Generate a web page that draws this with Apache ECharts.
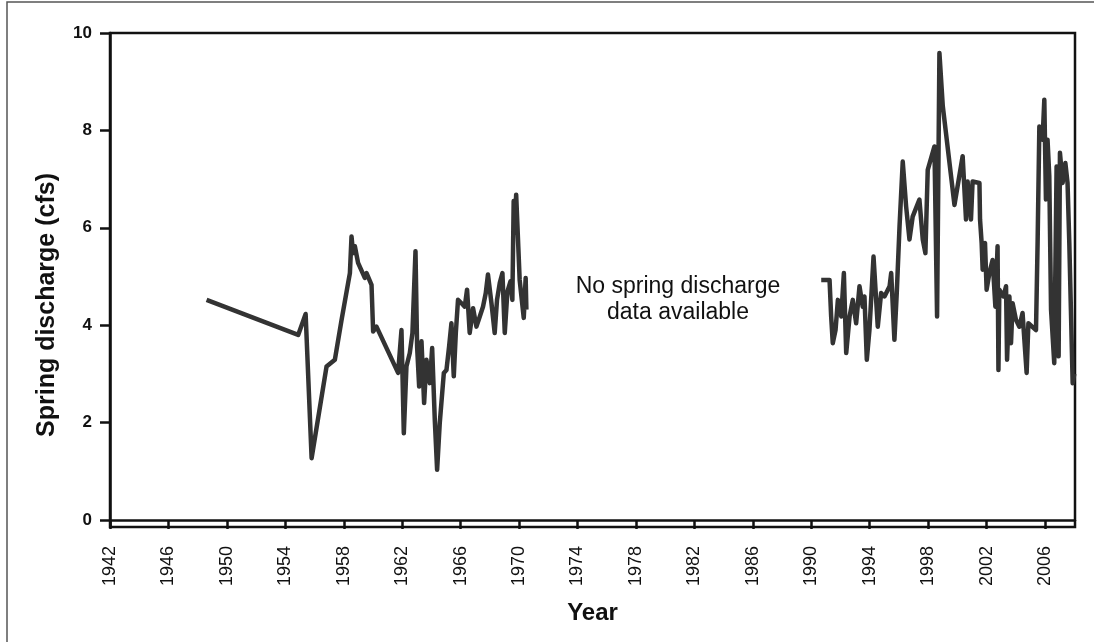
<!DOCTYPE html>
<html>
<head>
<meta charset="utf-8">
<script src="https://cdn.jsdelivr.net/npm/echarts@6/dist/echarts.min.js"></script>
<style>html,body{margin:0;padding:0;background:#fff}#c{width:1094px;height:642px}</style>
</head>
<body>
<div id="c"></div>
<script>
// Period 1 record (1948-1970)
const years1 = [1948.61,1954.88,1955.0,1955.39,1955.80,1956.82,1957.39,1957.85,1958.30,1958.42,1958.53,1958.64,1958.76,1958.98,1959.44,1959.56,1959.90,1960.01,1960.24,1961.72,1961.95,1962.11,1962.29,1962.52,1962.70,1962.91,1963.02,1963.16,1963.32,1963.50,1963.66,1963.89,1964.05,1964.23,1964.39,1964.57,1964.85,1965.03,1965.21,1965.37,1965.53,1965.67,1965.82,1966.06,1966.28,1966.44,1966.62,1966.85,1967.08,1967.31,1967.53,1967.72,1967.87,1968.11,1968.33,1968.49,1968.68,1968.86,1969.02,1969.20,1969.41,1969.54,1969.63,1969.70,1969.80,1970.04,1970.32,1970.45,1970.50];
const discharge1 = [4.52,3.80,3.80,4.23,1.27,3.15,3.29,4.11,4.87,5.07,5.82,5.48,5.62,5.28,4.97,5.07,4.83,3.87,3.97,3.02,3.90,1.78,3.15,3.43,3.84,5.52,3.56,2.74,3.67,2.40,3.29,2.81,3.53,2.06,1.03,1.99,3.02,3.08,3.56,4.04,2.95,3.84,4.52,4.45,4.38,4.73,3.84,4.35,3.97,4.18,4.38,4.66,5.04,4.45,3.84,4.52,4.87,5.07,3.84,4.69,4.90,4.52,6.55,5.90,6.68,4.93,4.15,4.97,4.32];
// Period 2 record (1990-2008)
const years2 = [1990.68,1991.25,1991.36,1991.47,1991.66,1991.82,1992.05,1992.23,1992.39,1992.62,1992.84,1993.07,1993.30,1993.52,1993.64,1993.80,1993.98,1994.26,1994.55,1994.78,1995.01,1995.36,1995.47,1995.58,1995.69,1995.85,1996.04,1996.26,1996.49,1996.72,1996.94,1997.40,1997.63,1997.81,1997.97,1998.43,1998.61,1998.77,1999.00,1999.80,2000.36,2000.59,2000.70,2000.93,2001.04,2001.51,2001.55,2001.66,2001.73,2001.89,2002.00,2002.19,2002.41,2002.60,2002.75,2002.81,2002.87,2003.15,2003.33,2003.40,2003.56,2003.67,2003.78,2004.01,2004.24,2004.46,2004.74,2004.86,2005.38,2005.49,2005.61,2005.83,2005.95,2006.06,2006.17,2006.29,2006.41,2006.63,2006.79,2006.93,2007.02,2007.20,2007.39,2007.54,2007.66,2007.77,2007.89,2008.00];
const discharge2 = [4.93,4.93,4.18,3.63,3.90,4.52,4.18,5.07,3.43,4.18,4.52,4.04,4.80,4.38,4.59,3.29,3.90,5.41,3.97,4.66,4.59,4.80,5.07,4.38,3.70,4.66,6.03,7.36,6.44,5.76,6.23,6.58,5.76,5.48,7.19,7.67,4.18,9.59,8.50,6.47,7.47,6.17,6.95,6.17,6.95,6.92,6.17,5.69,5.14,5.69,4.73,5.07,5.34,4.38,5.62,3.08,4.73,4.59,4.80,3.29,4.59,3.63,4.45,4.11,3.97,4.25,3.02,4.04,3.90,5.69,8.08,7.81,8.63,6.58,7.81,7.06,4.32,3.22,7.26,3.36,7.54,6.92,7.33,6.92,5.69,4.32,2.81,3.00];
const xTicks = [1942,1946,1950,1954,1958,1962,1966,1970,1974,1978,1982,1986,1990,1994,1998,2002,2006];
const yTicks = [0,2,4,6,8,10];

const pairs = (xs, ys) => xs.map((x, i) => [x, ys[i]]);
const FONT = '"Liberation Sans", Arial, sans-serif';
const lineStyle = { color: '#333333', width: 4.5, join: 'round' };

const chart = echarts.init(document.getElementById('c'), null, { renderer: 'canvas' });
chart.setOption({
  animation: false,
  backgroundColor: '#ffffff',
  grid: { left: 110, right: 19, top: 33, bottom: 115, show: true, borderColor: '#111', borderWidth: 2.5, backgroundColor: 'transparent' },
  xAxis: {
    type: 'value', min: 1942, max: 2008.05,
    name: 'Year', nameLocation: 'middle', nameGap: 74,
    nameTextStyle: { fontFamily: FONT, fontWeight: 'bold', fontSize: 24, color: '#111' },
    axisLine: { show: true, lineStyle: { color: '#111', width: 2.5 } },
    axisTick: { show: true, length: 9, lineStyle: { color: '#111', width: 2.5 }, customValues: xTicks },
    axisLabel: { rotate: 90, margin: 19, fontFamily: FONT, fontSize: 18, color: '#111', customValues: xTicks, formatter: v => String(v) },
    splitLine: { show: false }
  },
  yAxis: {
    type: 'value', min: -0.144, max: 10,
    name: 'Spring discharge (cfs)', nameLocation: 'middle', nameGap: 50,
    nameTextStyle: { fontFamily: FONT, fontWeight: 'bold', fontSize: 25, color: '#111', padding: [0, 50, 0, 0] },
    axisLine: { show: true, lineStyle: { color: '#111', width: 2.5 } },
    axisTick: { show: true, length: 10, lineStyle: { color: '#111', width: 2.5 }, customValues: yTicks },
    axisLabel: { margin: 18, fontFamily: FONT, fontWeight: 'bold', fontSize: 17, color: '#111', customValues: yTicks, formatter: v => String(v) },
    splitLine: { show: false }
  },
  series: [
    { type: 'line', data: pairs(years1, discharge1), showSymbol: false, symbol: 'none', lineStyle: lineStyle },
    { type: 'line', data: pairs(years2, discharge2), showSymbol: false, symbol: 'none', lineStyle: lineStyle }
  ],
  graphic: [
    { type: 'rect', shape: { x: 7, y: 2, width: 1200, height: 800 }, style: { fill: 'none', stroke: '#555', lineWidth: 1.5 }, silent: true },
    { type: 'text', x: 678, y: 300, style: { text: 'No spring discharge\ndata available', font: '23px ' + FONT, fill: '#111', align: 'center', verticalAlign: 'middle', lineHeight: 26 } }
  ]
});
</script>
</body>
</html>
